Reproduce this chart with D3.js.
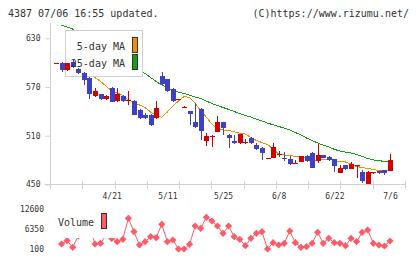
<!DOCTYPE html>
<html>
<head>
<meta charset="utf-8">
<script src="https://cdn.jsdelivr.net/npm/d3@7"></script>
<style>
  body { margin: 0; background: #fff; }
  svg text { font-family: "DejaVu Sans Mono", monospace; fill: #333; }
</style>
</head>
<body>
<div id="chart"></div>
<script>
// trading days (2022)
const dates = ['4/7','4/8','4/11','4/12','4/13','4/14','4/15','4/18','4/19','4/20',
  '4/21','4/22','4/25','4/26','4/27','4/28','5/2','5/6','5/9','5/10',
  '5/11','5/12','5/13','5/16','5/17','5/18','5/19','5/20','5/23','5/24',
  '5/25','5/26','5/27','5/30','5/31','6/1','6/2','6/3','6/6','6/7',
  '6/8','6/9','6/10','6/13','6/14','6/15','6/16','6/17','6/20','6/21',
  '6/22','6/23','6/24','6/27','6/28','6/29','6/30','7/1','7/4','7/5','7/6'];

const open  = [599,600,591,601,592,587,581,559,561,555, 569,553,559,553,553,542,535,536,532,584,
  579.5,567.5,554,545,540,527,543,503,509.6,515, 526.5,511,503.5,500.6,501.9,507.5,498.5,495,482,482.2,
  487,482.9,481.3,476,478,485,489,478.8,486,483.4, 480.9,464.4,473.9,469,473.9,465.6,450.5,464.9,466.5,467.7,466.9];
const high  = [600,601,600,603,593,588,582,569,562,560, 570,569,560,565,554,543,538,537,553,588,
  580,569,555.5,546,541,550,544,513,511,534, 527,512,511,512,506,508,501.4,496,482.5,501.4,
  491,490.3,485,480,485.5,486,490,499.4,486.5,485, 481.5,473.9,474.5,478,474.5,467.7,466,465.3,467,468,487.5];
const low   = [598,588,590,594,586,572,555,558,554,554, 551,552,551,548,535,531,531,522,531,573,
  564,552,553.5,545,523,520,505,497,496,514, 511,494.5,500,500,500,500,492.4,480,482,482,
  483.4,479.2,474,476,477.5,478,470,476.7,482.5,478.8, 465.6,464,467.7,468.5,458.3,451.4,450,462.4,463,461.6,466];
const close = [599.5,591,599,595,587,579,561,565,555,559, 552,561,553,553.5,536,532,532,523,544,574,
  565,553,555,545.5,536.5,521,516,510,510,526.5, 519,507,501.4,511.7,502.3,500.6,493.6,489,482.3,496.4,
  487.3,480.9,474.8,476.3,485,478.8,470.6,486.2,483,480.1, 473,469.8,469,474.8,474.2,454.6,465.6,465.2,463.7,463.7,480.1];

const ma5 = [null,null,null,null,594,590,586,581.7,576.8,571.2, 565.1,562.6,559.5,554,551,547.8,544.7,539.2,534.9,532.7,
  539.2,546.6,552.7,558.3,557,550.3,540.4,533,524.4,518.3, 517,516.4,514.8,513,512.1,507.8,504.1,501.6,499.2,493.6,
  487.5,486.2,485.6,484.6,483.8,482.5,479.4,480.1,481.3,481.3, 479.4,478.2,477.6,475.1,472.1,470.8,469.6,468.4,467.1,466.5,467.1];
const ma25 = [null,646.4,643.9,641.4,637,633,629,625,620,616, 611,607,602,598,594,590,586.6,581.7,576.8,572.5,
  569.4,565.7,563.8,562,560.1,557.7,555.8,552.7,549.7,547.2, 544.7,542.5,539.8,537.3,534.9,533,530.2,528.1,525.6,523.4,
  521.3,519.5,517,513.9,510.9,507.2,504.1,501,498.5,496.1, 493.2,491.1,489.9,488.7,486.8,484.4,481.9,480.1,479.4,478.2,477.2];

const volume = [null,1662,2694,631,4162,6662,7287,1662,1881,4475, 3381,2381,3131,9694,5506,1350,2381,3944,3631,7819,
  2381,2912,100,100,1569,7287,6569,10006,8850,7288, 5006,7288,3944,3131,1131,3444,5006,5506,100,2069,
  1350,1881,5725,2069,631,819,1881,5319,1881,3444, 2069,1881,1131,3444,2381,5319,6037,1881,1350,1037,2600];

const priceTicks = [450, 510, 570, 630];
const volumeTicks = [100, 6350, 12600];
const dateLabels = ['4/21', '5/11', '5/25', '6/8', '6/22', '7/6'];
const legendItems = ['5-day MA', '25-day MA'];

const RED = '#d40000', BLUE = '#4040c4', ORANGE = '#f29100', GREEN = '#14a014', PINK = '#ff5a68', AXIS = '#d0d0d0';

const svg = d3.select('#chart').append('svg')
  .attr('width', 420).attr('height', 259);
svg.append('rect').attr('width', 420).attr('height', 259).attr('fill', '#fff');

const x = d3.scalePoint().domain(dates).range([56, 390]);
const y = d3.scaleLinear().domain([450, 650]).range([184.4, 22.1]);
const yv = d3.scaleLinear().domain([100, 12600]).range([249, 209]);
const grid = d3.scaleLinear().domain([0, 11]).range([50, 405]);

// header
svg.append('text').attr('x', 8).attr('y', 17).attr('font-size', 10).text('4387 07/06 16:55 updated.');
svg.append('text').attr('x', 409).attr('y', 17).attr('font-size', 10).attr('text-anchor', 'end')
  .text('(C)https://www.rizumu.net/');

// axes
svg.append('line').attr('x1', 50.5).attr('x2', 50.5).attr('y1', 23).attr('y2', 189).attr('stroke', AXIS);
svg.append('line').attr('x1', 45).attr('x2', 405).attr('y1', 184.5).attr('y2', 184.5).attr('stroke', AXIS);
svg.append('g').selectAll('line').data(d3.range(1, 12)).join('line')
  .attr('x1', d => Math.round(grid(d)) + 0.5).attr('x2', d => Math.round(grid(d)) + 0.5)
  .attr('y1', 181).attr('y2', 189).attr('stroke', AXIS);

const yAxis = svg.append('g').attr('transform', 'translate(50.5,0)')
  .call(d3.axisLeft(y).tickValues(priceTicks).tickSize(5).tickSizeOuter(0).tickPadding(5));
yAxis.select('.domain').remove();
yAxis.selectAll('line').attr('stroke', AXIS);
yAxis.selectAll('text').attr('font-size', 8).attr('fill', '#333')
  .style('font-family', '"DejaVu Sans Mono", monospace');

const xAxis = svg.append('g').attr('transform', 'translate(0,193)')
  .call(d3.axisBottom(x).tickValues(dateLabels).tickSize(0).tickPadding(0));
xAxis.select('.domain').remove();
xAxis.selectAll('text').attr('font-size', 8).attr('fill', '#333')
  .style('font-family', '"DejaVu Sans Mono", monospace');

// moving averages
const line = d3.line().defined(d => d != null)
  .x((d, i) => x(dates[i])).y(d => y(d));
svg.append('path').datum(ma25).attr('d', line).attr('fill', 'none')
  .attr('stroke', GREEN).attr('stroke-width', 1).attr('shape-rendering', 'crispEdges');
svg.append('path').datum(ma5).attr('d', line).attr('fill', 'none')
  .attr('stroke', ORANGE).attr('stroke-width', 1).attr('shape-rendering', 'crispEdges');

// legend box (covers the MA lines)
svg.append('rect').attr('x', 65.5).attr('y', 30.5).attr('width', 77).attr('height', 46)
  .attr('fill', '#fff').attr('stroke', AXIS);

// candles
const candles = svg.append('g').attr('shape-rendering', 'crispEdges');
dates.forEach((d, i) => {
  const cx = Math.round(x(d));
  const col = close[i] >= open[i] ? RED : BLUE;
  candles.append('line').attr('x1', cx + 0.5).attr('x2', cx + 0.5)
    .attr('y1', y(high[i])).attr('y2', y(low[i])).attr('stroke', col);
  const top = y(Math.max(open[i], close[i]));
  const bot = y(Math.min(open[i], close[i]));
  candles.append('rect').attr('x', cx - 2).attr('width', 5)
    .attr('y', top).attr('height', Math.max(1, bot - top)).attr('fill', col);
});

// legend text and swatches
const leg = svg.append('g');
legendItems.forEach((t, i) => {
  leg.append('text').attr('x', 125).attr('y', 50 + i * 16.5).attr('font-size', 10)
    .attr('text-anchor', 'end').text(t);
  leg.append('rect').attr('x', 132.5).attr('y', 37.5 + i * 17).attr('width', 5).attr('height', 15)
    .attr('fill', i === 0 ? ORANGE : GREEN).attr('stroke', '#333');
});

// volume
const vline = d3.line().defined(d => d != null)
  .x((d, i) => x(dates[i])).y(d => yv(d));
svg.append('path').datum(volume).attr('d', vline).attr('fill', 'none').attr('stroke', PINK);
svg.append('g').selectAll('path').data(volume.map((v, i) => [v, i]).filter(d => d[0] != null)).join('path')
  .attr('d', d3.symbol(d3.symbolSquare, 26))
  .attr('transform', d => `translate(${x(dates[d[1]])},${yv(d[0])}) rotate(45)`)
  .attr('fill', PINK);

svg.append('rect').attr('x', 55).attr('y', 203).attr('width', 63).attr('height', 35).attr('fill', '#fff');
svg.append('text').attr('x', 58).attr('y', 226).attr('font-size', 10).text('Volume');
svg.append('rect').attr('x', 101.5).attr('y', 213.5).attr('width', 5).attr('height', 15)
  .attr('fill', PINK).attr('stroke', '#333');

const vAxis = svg.append('g').attr('transform', 'translate(50,0)')
  .call(d3.axisLeft(yv).tickValues(volumeTicks).tickFormat(d => String(d)).tickSize(0).tickPadding(6));
vAxis.select('.domain').remove();
vAxis.selectAll('text').attr('font-size', 8).attr('fill', '#333')
  .style('font-family', '"DejaVu Sans Mono", monospace');
</script>
</body>
</html>
